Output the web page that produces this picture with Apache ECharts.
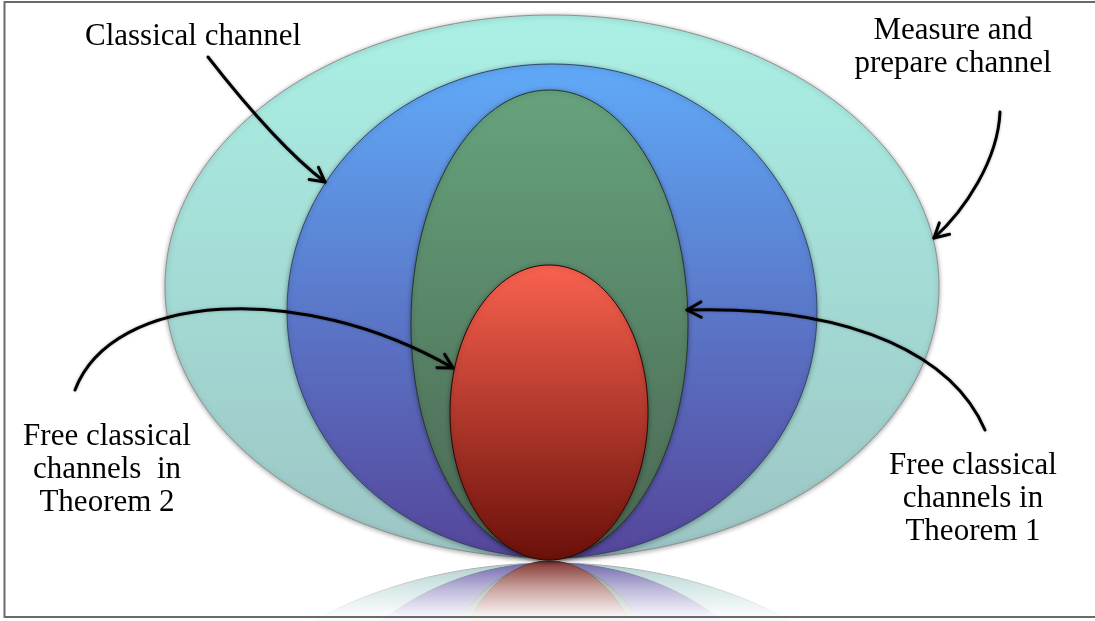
<!DOCTYPE html>
<html>
<head>
<meta charset="utf-8">
<title>Channel hierarchy</title>
<script src="https://cdn.jsdelivr.net/npm/echarts@6/dist/echarts.min.js"></script>
<style>
html, body { margin: 0; padding: 0; background: #fff; }
#chart { width: 1095px; height: 621px; }
</style>
</head>
<body>
<div id="chart"></div>
<script>
// nested regions, outermost first (diagram units = pixels of the picture)
var regions = ['Measure and prepare channel', 'Classical channel', 'Free classical channels in Theorem 1', 'Free classical channels in Theorem 2'];
var centerX = [552, 552, 549.5, 549];
var centerY = [286.5, 311, 324, 412.5];
var radiusX = [387, 265, 138.5, 99];
var radiusY = [271.5, 247, 234, 147.5];
var mirrorY = 560.5;

var labelText = ['Measure and\nprepare channel', 'Classical channel', 'Free classical\nchannels in\nTheorem 1', 'Free classical\nchannels  in\nTheorem 2'];
var labelX = [953, 193, 973, 107];
var labelY = [47, 37, 499, 470];

// arrows: cubic bezier start, two control points, tip
var arrowStart = [[1000, 112], [208, 57], [985, 430], [75, 390]];
var arrowCtrl1 = [[998, 160], [240, 98], [955, 360], [112, 292]];
var arrowCtrl2 = [[965, 210], [283, 150], [860, 305], [300, 280]];
var arrowTip = [[934, 238], [325, 182], [687, 310], [453, 368]];

var topColors = ['#aaf0e5', '#60aaf8', '#66a37d', '#fa624f'];
var bottomColors = ['#9cc5c4', '#55459a', '#4a6652', '#6a100a'];
var edgeColors = ['#8f8f8f', '#34466a', '#24382c', '#2a0804'];

var chart = echarts.init(document.getElementById('chart'));

function grad(i, flip) {
    var stops = [{ offset: 0, color: topColors[i] }, { offset: 1, color: bottomColors[i] }];
    return flip ? new echarts.graphic.LinearGradient(0, 1, 0, 0, stops)
                : new echarts.graphic.LinearGradient(0, 0, 0, 1, stops);
}

function ellipseItem(params, api) {
    var i = params.dataIndex;
    var c = api.coord([api.value(0), api.value(1)]);
    var s = api.size([api.value(2), api.value(3)]);
    return {
        type: 'ellipse',
        shape: { cx: c[0], cy: c[1], rx: s[0], ry: s[1] },
        style: {
            fill: grad(i, false),
            stroke: edgeColors[i],
            lineWidth: 1,
            shadowBlur: 5,
            shadowColor: 'rgba(0,0,0,0.35)',
            shadowOffsetY: 1
        }
    };
}

function reflectionItem(params, api) {
    var i = params.dataIndex;
    var c = api.coord([api.value(0), 2 * mirrorY - api.value(1)]);
    var s = api.size([api.value(2), api.value(3)]);
    var children = [{
        type: 'ellipse',
        shape: { cx: c[0], cy: c[1], rx: s[0], ry: s[1] },
        style: { fill: grad(i, true), stroke: edgeColors[i], lineWidth: 1 }
    }];
    if (i === regions.length - 1) {
        var a = api.coord([0, mirrorY]);
        var b = api.coord([1095, 621]);
        children.push({
            type: 'rect',
            shape: { x: a[0], y: a[1], width: b[0] - a[0], height: b[1] - a[1] },
            style: {
                fill: new echarts.graphic.LinearGradient(0, a[1], 0, b[1] - 5, [
                    { offset: 0, color: 'rgba(255,255,255,0.15)' },
                    { offset: 0.5, color: 'rgba(255,255,255,0.6)' },
                    { offset: 1, color: 'rgba(255,255,255,0.95)' }
                ], true)
            }
        });
    }
    return { type: 'group', children: children };
}

function arrowItem(params, api) {
    var p0 = api.coord([api.value(0), api.value(1)]);
    var c1 = api.coord([api.value(2), api.value(3)]);
    var c2 = api.coord([api.value(4), api.value(5)]);
    var p1 = api.coord([api.value(6), api.value(7)]);
    var ang = Math.atan2(p1[1] - c2[1], p1[0] - c2[0]);
    var len = 16, spread = 0.5;
    var left = [p1[0] - len * Math.cos(ang - spread), p1[1] - len * Math.sin(ang - spread)];
    var right = [p1[0] - len * Math.cos(ang + spread), p1[1] - len * Math.sin(ang + spread)];
    var line = { stroke: '#000', lineWidth: 3, fill: null, shadowBlur: 3, shadowColor: 'rgba(0,0,0,0.3)', lineCap: 'round', lineJoin: 'round' };
    return {
        type: 'group',
        children: [{
            type: 'bezierCurve',
            shape: { x1: p0[0], y1: p0[1], cpx1: c1[0], cpy1: c1[1], cpx2: c2[0], cpy2: c2[1], x2: p1[0], y2: p1[1] },
            style: line
        }, {
            type: 'polyline',
            shape: { points: [left, p1, right] },
            style: line
        }]
    };
}

function labelItem(params, api) {
    var p = api.coord([api.value(0), api.value(1)]);
    return {
        type: 'text',
        style: {
            text: labelText[params.dataIndex],
            x: p[0], y: p[1],
            fill: '#000',
            fontSize: 31,
            fontFamily: '"Liberation Serif", "Times New Roman", serif',
            lineHeight: 33,
            align: 'center',
            verticalAlign: 'middle'
        }
    };
}

var ellipseData = regions.map(function (n, i) { return [centerX[i], centerY[i], radiusX[i], radiusY[i]]; });
var arrowData = arrowStart.map(function (p, i) {
    return [p[0], p[1], arrowCtrl1[i][0], arrowCtrl1[i][1], arrowCtrl2[i][0], arrowCtrl2[i][1], arrowTip[i][0], arrowTip[i][1]];
});
var labelData = labelText.map(function (t, i) { return [labelX[i], labelY[i]]; });

chart.setOption({
    animation: false,
    grid: { left: 0, right: 0, top: 0, bottom: 0 },
    xAxis: { type: 'value', min: 0, max: 1095, show: false },
    yAxis: { type: 'value', min: 0, max: 621, inverse: true, show: false },
    graphic: [{
        type: 'polyline',
        shape: { points: [[1095, 2], [4.5, 2], [4.5, 617], [1095, 617]] },
        style: { stroke: '#6a6a6a', lineWidth: 2, fill: null },
        z: 10
    }],
    series: [
        { type: 'custom', name: 'reflection', z: 1, renderItem: reflectionItem, data: ellipseData, encode: { x: 0, y: 1 } },
        { type: 'custom', name: 'regions', z: 2, renderItem: ellipseItem, data: ellipseData, encode: { x: 0, y: 1 } },
        { type: 'custom', name: 'arrows', z: 3, renderItem: arrowItem, data: arrowData, encode: { x: [0, 2, 4, 6], y: [1, 3, 5, 7] } },
        { type: 'custom', name: 'labels', z: 4, renderItem: labelItem, data: labelData, encode: { x: 0, y: 1 } }
    ]
});
</script>
</body>
</html>
